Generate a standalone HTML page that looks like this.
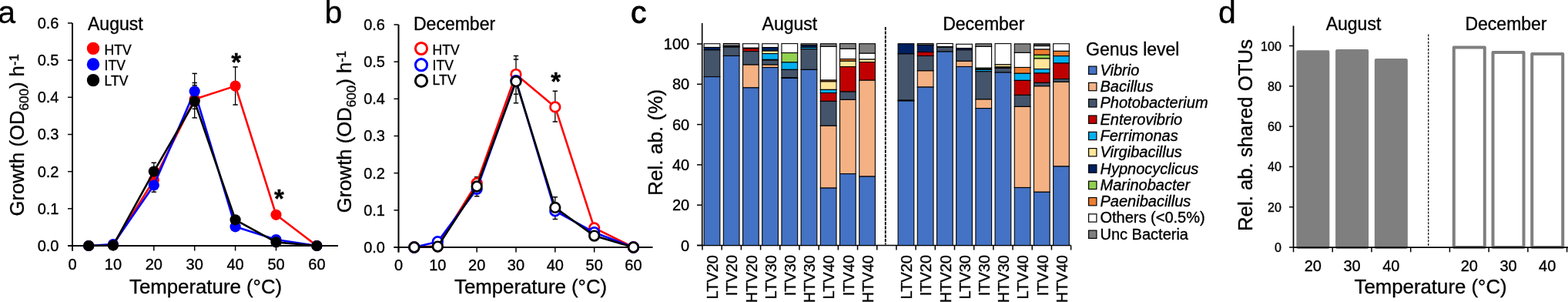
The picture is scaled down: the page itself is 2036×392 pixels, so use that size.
<!DOCTYPE html><html><head><meta charset="utf-8"><style>html,body{margin:0;padding:0;background:#fff;overflow:hidden}svg{display:block}text{stroke:#000;stroke-width:0.35px}</style></head><body><svg width="2036" height="392" viewBox="0 0 2036 392" style="font-family:'Liberation Sans', Arial, Helvetica, sans-serif">
<rect width="2036" height="392" fill="#fff"/>
<text x="-2.80" y="29.50" text-anchor="start" style="font-size:41px" >a</text>
<line x1="94.00" y1="29.98" x2="94.00" y2="325.50" stroke="#000" stroke-width="2.0" />
<line x1="88.00" y1="319.00" x2="439.00" y2="319.00" stroke="#000" stroke-width="2.0" />
<line x1="88.00" y1="319.00" x2="94.00" y2="319.00" stroke="#000" stroke-width="1.5" />
<text x="76.50" y="326.00" text-anchor="end" style="font-size:20px" >0.0</text>
<line x1="88.00" y1="270.83" x2="94.00" y2="270.83" stroke="#000" stroke-width="1.5" />
<text x="76.50" y="277.83" text-anchor="end" style="font-size:20px" >0.1</text>
<line x1="88.00" y1="222.66" x2="94.00" y2="222.66" stroke="#000" stroke-width="1.5" />
<text x="76.50" y="229.66" text-anchor="end" style="font-size:20px" >0.2</text>
<line x1="88.00" y1="174.49" x2="94.00" y2="174.49" stroke="#000" stroke-width="1.5" />
<text x="76.50" y="181.49" text-anchor="end" style="font-size:20px" >0.3</text>
<line x1="88.00" y1="126.32" x2="94.00" y2="126.32" stroke="#000" stroke-width="1.5" />
<text x="76.50" y="133.32" text-anchor="end" style="font-size:20px" >0.4</text>
<line x1="88.00" y1="78.15" x2="94.00" y2="78.15" stroke="#000" stroke-width="1.5" />
<text x="76.50" y="85.15" text-anchor="end" style="font-size:20px" >0.5</text>
<line x1="88.00" y1="29.98" x2="94.00" y2="29.98" stroke="#000" stroke-width="1.5" />
<text x="76.50" y="36.98" text-anchor="end" style="font-size:20px" >0.6</text>
<line x1="94.00" y1="319.00" x2="94.00" y2="325.50" stroke="#000" stroke-width="1.5" />
<text x="94.00" y="349.60" text-anchor="middle" style="font-size:20px" >0</text>
<line x1="146.90" y1="319.00" x2="146.90" y2="325.50" stroke="#000" stroke-width="1.5" />
<text x="146.90" y="349.60" text-anchor="middle" style="font-size:20px" >10</text>
<line x1="199.80" y1="319.00" x2="199.80" y2="325.50" stroke="#000" stroke-width="1.5" />
<text x="199.80" y="349.60" text-anchor="middle" style="font-size:20px" >20</text>
<line x1="252.70" y1="319.00" x2="252.70" y2="325.50" stroke="#000" stroke-width="1.5" />
<text x="252.70" y="349.60" text-anchor="middle" style="font-size:20px" >30</text>
<line x1="305.60" y1="319.00" x2="305.60" y2="325.50" stroke="#000" stroke-width="1.5" />
<text x="305.60" y="349.60" text-anchor="middle" style="font-size:20px" >40</text>
<line x1="358.50" y1="319.00" x2="358.50" y2="325.50" stroke="#000" stroke-width="1.5" />
<text x="358.50" y="349.60" text-anchor="middle" style="font-size:20px" >50</text>
<line x1="411.40" y1="319.00" x2="411.40" y2="325.50" stroke="#000" stroke-width="1.5" />
<text x="411.40" y="349.60" text-anchor="middle" style="font-size:20px" >60</text>
<text x="168.00" y="380.70" text-anchor="start" style="font-size:25.8px" >Temperature (°C)</text>
<text transform="translate(31.30,280.50) rotate(-90)" style="font-size:25.7px">Growth (OD<tspan style="font-size:17px" dy="6">600</tspan><tspan dy="-6">) h</tspan><tspan style="font-size:17px" dy="-7">-1</tspan></text>
<text x="114.00" y="39.00" text-anchor="start" style="font-size:23px" >August</text>
<circle cx="121" cy="62.9" r="8.2" fill="#ff0000"/>
<text x="135.60" y="70.80" text-anchor="start" style="font-size:17.5px" >HTV</text>
<circle cx="121" cy="83.5" r="8.2" fill="#0000ff"/>
<text x="135.60" y="91.00" text-anchor="start" style="font-size:17.5px" >ITV</text>
<circle cx="121" cy="104.1" r="8.2" fill="#000000"/>
<text x="135.60" y="111.20" text-anchor="start" style="font-size:17.5px" >LTV</text>
<line x1="199.80" y1="211.25" x2="199.80" y2="249.25" stroke="#000" stroke-width="1.3" />
<line x1="196.60" y1="211.25" x2="203.00" y2="211.25" stroke="#000" stroke-width="1.5" />
<line x1="196.60" y1="249.25" x2="203.00" y2="249.25" stroke="#000" stroke-width="1.5" />
<line x1="252.70" y1="95.40" x2="252.70" y2="152.90" stroke="#000" stroke-width="1.3" />
<line x1="249.50" y1="95.40" x2="255.90" y2="95.40" stroke="#000" stroke-width="1.5" />
<line x1="249.50" y1="107.50" x2="255.90" y2="107.50" stroke="#000" stroke-width="1.5" />
<line x1="249.50" y1="110.70" x2="255.90" y2="110.70" stroke="#000" stroke-width="1.5" />
<line x1="249.50" y1="141.30" x2="255.90" y2="141.30" stroke="#000" stroke-width="1.5" />
<line x1="249.50" y1="152.90" x2="255.90" y2="152.90" stroke="#000" stroke-width="1.5" />
<line x1="305.60" y1="86.90" x2="305.60" y2="136.00" stroke="#000" stroke-width="1.3" />
<line x1="302.40" y1="86.90" x2="308.80" y2="86.90" stroke="#000" stroke-width="1.5" />
<line x1="302.40" y1="136.00" x2="308.80" y2="136.00" stroke="#000" stroke-width="1.5" />
<polyline points="115.16,319.00 146.90,318.04 199.80,233.74 252.70,128.73 305.60,111.63 358.50,278.78 411.40,319.00" fill="none" stroke="#ff0000" stroke-width="2.6" stroke-linejoin="round"/>
<circle cx="115.16" cy="319.00" r="7.1" fill="#ff0000"/>
<circle cx="146.90" cy="318.04" r="7.1" fill="#ff0000"/>
<circle cx="199.80" cy="233.74" r="7.1" fill="#ff0000"/>
<circle cx="252.70" cy="128.73" r="7.1" fill="#ff0000"/>
<circle cx="305.60" cy="111.63" r="7.1" fill="#ff0000"/>
<circle cx="358.50" cy="278.78" r="7.1" fill="#ff0000"/>
<circle cx="411.40" cy="319.00" r="7.1" fill="#ff0000"/>
<polyline points="115.16,319.00 146.90,317.07 199.80,240.48 252.70,118.61 305.60,294.29 358.50,311.05 411.40,319.00" fill="none" stroke="#0000ff" stroke-width="2.6" stroke-linejoin="round"/>
<circle cx="115.16" cy="319.00" r="7.1" fill="#0000ff"/>
<circle cx="146.90" cy="317.07" r="7.1" fill="#0000ff"/>
<circle cx="199.80" cy="240.48" r="7.1" fill="#0000ff"/>
<circle cx="252.70" cy="118.61" r="7.1" fill="#0000ff"/>
<circle cx="305.60" cy="294.29" r="7.1" fill="#0000ff"/>
<circle cx="358.50" cy="311.05" r="7.1" fill="#0000ff"/>
<circle cx="411.40" cy="319.00" r="7.1" fill="#0000ff"/>
<polyline points="115.16,319.00 146.90,318.52 199.80,222.56 252.70,131.62 305.60,285.28 358.50,314.42 411.40,319.00" fill="none" stroke="#000000" stroke-width="2.6" stroke-linejoin="round"/>
<circle cx="115.16" cy="319.00" r="7.1" fill="#000000"/>
<circle cx="146.90" cy="318.52" r="7.1" fill="#000000"/>
<circle cx="199.80" cy="222.56" r="7.1" fill="#000000"/>
<circle cx="252.70" cy="131.62" r="7.1" fill="#000000"/>
<circle cx="305.60" cy="285.28" r="7.1" fill="#000000"/>
<circle cx="358.50" cy="314.42" r="7.1" fill="#000000"/>
<circle cx="411.40" cy="319.00" r="7.1" fill="#000000"/>
<text x="306.60" y="91.60" text-anchor="middle" style="font-size:33px;font-weight:bold" >*</text>
<text x="362.50" y="268.60" text-anchor="middle" style="font-size:33px;font-weight:bold" >*</text>
<text x="421.50" y="29.50" text-anchor="start" style="font-size:41px" >b</text>
<line x1="517.50" y1="31.98" x2="517.50" y2="327.50" stroke="#000" stroke-width="2.0" />
<line x1="511.50" y1="321.00" x2="847.50" y2="321.00" stroke="#000" stroke-width="2.0" />
<line x1="511.50" y1="321.00" x2="517.50" y2="321.00" stroke="#000" stroke-width="1.5" />
<text x="500.00" y="328.00" text-anchor="end" style="font-size:20px" >0.0</text>
<line x1="511.50" y1="272.83" x2="517.50" y2="272.83" stroke="#000" stroke-width="1.5" />
<text x="500.00" y="279.83" text-anchor="end" style="font-size:20px" >0.1</text>
<line x1="511.50" y1="224.66" x2="517.50" y2="224.66" stroke="#000" stroke-width="1.5" />
<text x="500.00" y="231.66" text-anchor="end" style="font-size:20px" >0.2</text>
<line x1="511.50" y1="176.49" x2="517.50" y2="176.49" stroke="#000" stroke-width="1.5" />
<text x="500.00" y="183.49" text-anchor="end" style="font-size:20px" >0.3</text>
<line x1="511.50" y1="128.32" x2="517.50" y2="128.32" stroke="#000" stroke-width="1.5" />
<text x="500.00" y="135.32" text-anchor="end" style="font-size:20px" >0.4</text>
<line x1="511.50" y1="80.15" x2="517.50" y2="80.15" stroke="#000" stroke-width="1.5" />
<text x="500.00" y="87.15" text-anchor="end" style="font-size:20px" >0.5</text>
<line x1="511.50" y1="31.98" x2="517.50" y2="31.98" stroke="#000" stroke-width="1.5" />
<text x="500.00" y="38.98" text-anchor="end" style="font-size:20px" >0.6</text>
<line x1="517.50" y1="321.00" x2="517.50" y2="327.50" stroke="#000" stroke-width="1.5" />
<text x="517.50" y="350.60" text-anchor="middle" style="font-size:20px" >0</text>
<line x1="568.33" y1="321.00" x2="568.33" y2="327.50" stroke="#000" stroke-width="1.5" />
<text x="568.33" y="350.60" text-anchor="middle" style="font-size:20px" >10</text>
<line x1="619.16" y1="321.00" x2="619.16" y2="327.50" stroke="#000" stroke-width="1.5" />
<text x="619.16" y="350.60" text-anchor="middle" style="font-size:20px" >20</text>
<line x1="669.99" y1="321.00" x2="669.99" y2="327.50" stroke="#000" stroke-width="1.5" />
<text x="669.99" y="350.60" text-anchor="middle" style="font-size:20px" >30</text>
<line x1="720.82" y1="321.00" x2="720.82" y2="327.50" stroke="#000" stroke-width="1.5" />
<text x="720.82" y="350.60" text-anchor="middle" style="font-size:20px" >40</text>
<line x1="771.65" y1="321.00" x2="771.65" y2="327.50" stroke="#000" stroke-width="1.5" />
<text x="771.65" y="350.60" text-anchor="middle" style="font-size:20px" >50</text>
<line x1="822.48" y1="321.00" x2="822.48" y2="327.50" stroke="#000" stroke-width="1.5" />
<text x="822.48" y="350.60" text-anchor="middle" style="font-size:20px" >60</text>
<text x="590.00" y="381.00" text-anchor="start" style="font-size:25.8px" >Temperature (°C)</text>
<text transform="translate(455.80,276.20) rotate(-90)" style="font-size:25.7px">Growth (OD<tspan style="font-size:17px" dy="6">600</tspan><tspan dy="-6">) h</tspan><tspan style="font-size:17px" dy="-7">-1</tspan></text>
<text x="537.00" y="39.00" text-anchor="start" style="font-size:23px" >December</text>
<circle cx="547" cy="63" r="7.6" fill="#fff" stroke="#ff0000" stroke-width="3"/>
<text x="561.60" y="70.50" text-anchor="start" style="font-size:17.5px" >HTV</text>
<circle cx="547" cy="84.2" r="7.6" fill="#fff" stroke="#0000ff" stroke-width="3"/>
<text x="561.60" y="91.00" text-anchor="start" style="font-size:17.5px" >ITV</text>
<circle cx="547" cy="104.9" r="7.6" fill="#fff" stroke="#000000" stroke-width="3"/>
<text x="561.60" y="110.00" text-anchor="start" style="font-size:17.5px" >LTV</text>
<line x1="619.16" y1="229.75" x2="619.16" y2="254.75" stroke="#000" stroke-width="1.3" />
<line x1="615.96" y1="229.75" x2="622.36" y2="229.75" stroke="#000" stroke-width="1.5" />
<line x1="615.96" y1="254.75" x2="622.36" y2="254.75" stroke="#000" stroke-width="1.5" />
<line x1="669.99" y1="72.50" x2="669.99" y2="133.75" stroke="#000" stroke-width="1.3" />
<line x1="666.79" y1="72.50" x2="673.19" y2="72.50" stroke="#000" stroke-width="1.5" />
<line x1="666.79" y1="77.10" x2="673.19" y2="77.10" stroke="#000" stroke-width="1.5" />
<line x1="666.79" y1="122.25" x2="673.19" y2="122.25" stroke="#000" stroke-width="1.5" />
<line x1="666.79" y1="133.75" x2="673.19" y2="133.75" stroke="#000" stroke-width="1.5" />
<line x1="720.82" y1="118.25" x2="720.82" y2="158.00" stroke="#000" stroke-width="1.3" />
<line x1="717.62" y1="118.25" x2="724.02" y2="118.25" stroke="#000" stroke-width="1.5" />
<line x1="717.62" y1="158.00" x2="724.02" y2="158.00" stroke="#000" stroke-width="1.5" />
<line x1="720.82" y1="255.75" x2="720.82" y2="284.50" stroke="#000" stroke-width="1.3" />
<line x1="717.62" y1="255.75" x2="724.02" y2="255.75" stroke="#000" stroke-width="1.5" />
<line x1="717.62" y1="284.50" x2="724.02" y2="284.50" stroke="#000" stroke-width="1.5" />
<polyline points="537.83,321.00 568.33,319.55 619.16,237.67 669.99,96.53 720.82,138.92 771.65,295.95 822.48,321.00" fill="none" stroke="#ff0000" stroke-width="2.6" stroke-linejoin="round"/>
<circle cx="537.83" cy="321.00" r="6.3" fill="#fff" stroke="#ff0000" stroke-width="2.7"/>
<circle cx="568.33" cy="319.55" r="6.3" fill="#fff" stroke="#ff0000" stroke-width="2.7"/>
<circle cx="619.16" cy="237.67" r="6.3" fill="#fff" stroke="#ff0000" stroke-width="2.7"/>
<circle cx="669.99" cy="96.53" r="6.3" fill="#fff" stroke="#ff0000" stroke-width="2.7"/>
<circle cx="720.82" cy="138.92" r="6.3" fill="#fff" stroke="#ff0000" stroke-width="2.7"/>
<circle cx="771.65" cy="295.95" r="6.3" fill="#fff" stroke="#ff0000" stroke-width="2.7"/>
<circle cx="822.48" cy="321.00" r="6.3" fill="#fff" stroke="#ff0000" stroke-width="2.7"/>
<polyline points="537.83,321.00 568.33,313.77 619.16,245.37 669.99,104.72 720.82,273.79 771.65,301.73 822.48,321.00" fill="none" stroke="#0000ff" stroke-width="2.6" stroke-linejoin="round"/>
<circle cx="537.83" cy="321.00" r="6.3" fill="#fff" stroke="#0000ff" stroke-width="2.7"/>
<circle cx="568.33" cy="313.77" r="6.3" fill="#fff" stroke="#0000ff" stroke-width="2.7"/>
<circle cx="619.16" cy="245.37" r="6.3" fill="#fff" stroke="#0000ff" stroke-width="2.7"/>
<circle cx="669.99" cy="104.72" r="6.3" fill="#fff" stroke="#0000ff" stroke-width="2.7"/>
<circle cx="720.82" cy="273.79" r="6.3" fill="#fff" stroke="#0000ff" stroke-width="2.7"/>
<circle cx="771.65" cy="301.73" r="6.3" fill="#fff" stroke="#0000ff" stroke-width="2.7"/>
<circle cx="822.48" cy="321.00" r="6.3" fill="#fff" stroke="#0000ff" stroke-width="2.7"/>
<polyline points="537.83,321.00 568.33,320.04 619.16,242.00 669.99,105.68 720.82,269.46 771.65,306.07 822.48,321.00" fill="none" stroke="#000000" stroke-width="2.6" stroke-linejoin="round"/>
<circle cx="537.83" cy="321.00" r="6.3" fill="#fff" stroke="#000000" stroke-width="2.7"/>
<circle cx="568.33" cy="320.04" r="6.3" fill="#fff" stroke="#000000" stroke-width="2.7"/>
<circle cx="619.16" cy="242.00" r="6.3" fill="#fff" stroke="#000000" stroke-width="2.7"/>
<circle cx="669.99" cy="105.68" r="6.3" fill="#fff" stroke="#000000" stroke-width="2.7"/>
<circle cx="720.82" cy="269.46" r="6.3" fill="#fff" stroke="#000000" stroke-width="2.7"/>
<circle cx="771.65" cy="306.07" r="6.3" fill="#fff" stroke="#000000" stroke-width="2.7"/>
<circle cx="822.48" cy="321.00" r="6.3" fill="#fff" stroke="#000000" stroke-width="2.7"/>
<text x="721.60" y="117.40" text-anchor="middle" style="font-size:33px;font-weight:bold" >*</text>
<text x="819.00" y="29.70" text-anchor="start" style="font-size:41px;stroke-width:0.9px" >c</text>
<line x1="911.70" y1="30.00" x2="911.70" y2="318.50" stroke="#000" stroke-width="1.6" />
<line x1="905.00" y1="318.50" x2="1390.61" y2="318.50" stroke="#000" stroke-width="1.6" />
<line x1="905.00" y1="318.50" x2="912.00" y2="318.50" stroke="#000" stroke-width="1.5" />
<text x="895.20" y="325.50" text-anchor="end" style="font-size:20px" >0</text>
<line x1="905.00" y1="266.20" x2="912.00" y2="266.20" stroke="#000" stroke-width="1.5" />
<text x="895.20" y="273.20" text-anchor="end" style="font-size:20px" >20</text>
<line x1="905.00" y1="213.90" x2="912.00" y2="213.90" stroke="#000" stroke-width="1.5" />
<text x="895.20" y="220.90" text-anchor="end" style="font-size:20px" >40</text>
<line x1="905.00" y1="161.60" x2="912.00" y2="161.60" stroke="#000" stroke-width="1.5" />
<text x="895.20" y="168.60" text-anchor="end" style="font-size:20px" >60</text>
<line x1="905.00" y1="109.30" x2="912.00" y2="109.30" stroke="#000" stroke-width="1.5" />
<text x="895.20" y="116.30" text-anchor="end" style="font-size:20px" >80</text>
<line x1="905.00" y1="57.00" x2="912.00" y2="57.00" stroke="#000" stroke-width="1.5" />
<text x="895.20" y="64.00" text-anchor="end" style="font-size:20px" >100</text>
<line x1="912.00" y1="318.50" x2="912.00" y2="324.50" stroke="#000" stroke-width="1.5" />
<line x1="937.19" y1="318.50" x2="937.19" y2="324.50" stroke="#000" stroke-width="1.5" />
<line x1="962.38" y1="318.50" x2="962.38" y2="324.50" stroke="#000" stroke-width="1.5" />
<line x1="987.57" y1="318.50" x2="987.57" y2="324.50" stroke="#000" stroke-width="1.5" />
<line x1="1012.76" y1="318.50" x2="1012.76" y2="324.50" stroke="#000" stroke-width="1.5" />
<line x1="1037.95" y1="318.50" x2="1037.95" y2="324.50" stroke="#000" stroke-width="1.5" />
<line x1="1063.14" y1="318.50" x2="1063.14" y2="324.50" stroke="#000" stroke-width="1.5" />
<line x1="1088.33" y1="318.50" x2="1088.33" y2="324.50" stroke="#000" stroke-width="1.5" />
<line x1="1113.52" y1="318.50" x2="1113.52" y2="324.50" stroke="#000" stroke-width="1.5" />
<line x1="1138.71" y1="318.50" x2="1138.71" y2="324.50" stroke="#000" stroke-width="1.5" />
<line x1="1163.90" y1="318.50" x2="1163.90" y2="324.50" stroke="#000" stroke-width="1.5" />
<line x1="1189.09" y1="318.50" x2="1189.09" y2="324.50" stroke="#000" stroke-width="1.5" />
<line x1="1214.28" y1="318.50" x2="1214.28" y2="324.50" stroke="#000" stroke-width="1.5" />
<line x1="1239.47" y1="318.50" x2="1239.47" y2="324.50" stroke="#000" stroke-width="1.5" />
<line x1="1264.66" y1="318.50" x2="1264.66" y2="324.50" stroke="#000" stroke-width="1.5" />
<line x1="1289.85" y1="318.50" x2="1289.85" y2="324.50" stroke="#000" stroke-width="1.5" />
<line x1="1315.04" y1="318.50" x2="1315.04" y2="324.50" stroke="#000" stroke-width="1.5" />
<line x1="1340.23" y1="318.50" x2="1340.23" y2="324.50" stroke="#000" stroke-width="1.5" />
<line x1="1365.42" y1="318.50" x2="1365.42" y2="324.50" stroke="#000" stroke-width="1.5" />
<line x1="1390.61" y1="318.50" x2="1390.61" y2="324.50" stroke="#000" stroke-width="1.5" />
<rect x="914.15" y="56.75" width="20.70" height="4.75" fill="#ffffff" stroke="#000" stroke-width="1.1"/>
<rect x="914.15" y="61.50" width="20.70" height="3.40" fill="#002060" stroke="#000" stroke-width="1.1"/>
<rect x="914.15" y="64.90" width="20.70" height="34.70" fill="#44546a" stroke="#000" stroke-width="1.1"/>
<rect x="914.15" y="99.60" width="20.70" height="218.90" fill="#4472c4" stroke="#000" stroke-width="1.1"/>
<text transform="translate(932.30,331) rotate(-90)" text-anchor="end" style="font-size:20px">LTV20</text>
<rect x="939.34" y="56.50" width="20.70" height="3.05" fill="#7f7f7f" stroke="#000" stroke-width="1.1"/>
<rect x="939.34" y="59.55" width="20.70" height="1.60" fill="#002060" stroke="#000" stroke-width="1.1"/>
<rect x="939.34" y="61.15" width="20.70" height="11.35" fill="#44546a" stroke="#000" stroke-width="1.1"/>
<rect x="939.34" y="72.50" width="20.70" height="246.00" fill="#4472c4" stroke="#000" stroke-width="1.1"/>
<text transform="translate(957.49,331) rotate(-90)" text-anchor="end" style="font-size:20px">ITV20</text>
<rect x="964.54" y="56.75" width="20.70" height="5.55" fill="#ffffff" stroke="#000" stroke-width="1.1"/>
<rect x="964.54" y="62.30" width="20.70" height="0.70" fill="#002060" stroke="#000" stroke-width="1.1"/>
<rect x="964.54" y="63.00" width="20.70" height="3.60" fill="#c00000" stroke="#000" stroke-width="1.1"/>
<rect x="964.54" y="66.60" width="20.70" height="17.50" fill="#44546a" stroke="#000" stroke-width="1.1"/>
<rect x="964.54" y="84.10" width="20.70" height="29.80" fill="#f4b183" stroke="#000" stroke-width="1.1"/>
<rect x="964.54" y="113.90" width="20.70" height="204.60" fill="#4472c4" stroke="#000" stroke-width="1.1"/>
<text transform="translate(982.68,331) rotate(-90)" text-anchor="end" style="font-size:20px">HTV20</text>
<rect x="989.73" y="56.75" width="20.70" height="4.85" fill="#ffffff" stroke="#000" stroke-width="1.1"/>
<rect x="989.73" y="61.60" width="20.70" height="4.50" fill="#002060" stroke="#000" stroke-width="1.1"/>
<rect x="989.73" y="66.10" width="20.70" height="3.50" fill="#ffe699" stroke="#000" stroke-width="1.1"/>
<rect x="989.73" y="69.60" width="20.70" height="7.80" fill="#00b0f0" stroke="#000" stroke-width="1.1"/>
<rect x="989.73" y="77.40" width="20.70" height="0.70" fill="#002060" stroke="#000" stroke-width="1.1"/>
<rect x="989.73" y="78.10" width="20.70" height="6.00" fill="#44546a" stroke="#000" stroke-width="1.1"/>
<rect x="989.73" y="84.10" width="20.70" height="3.50" fill="#f4b183" stroke="#000" stroke-width="1.1"/>
<rect x="989.73" y="87.60" width="20.70" height="230.90" fill="#4472c4" stroke="#000" stroke-width="1.1"/>
<text transform="translate(1007.87,331) rotate(-90)" text-anchor="end" style="font-size:20px">LTV30</text>
<rect x="1014.93" y="56.60" width="20.70" height="12.00" fill="#ffffff" stroke="#000" stroke-width="1.1"/>
<rect x="1014.93" y="68.60" width="20.70" height="12.30" fill="#92d050" stroke="#000" stroke-width="1.1"/>
<rect x="1014.93" y="80.90" width="20.70" height="9.50" fill="#00b0f0" stroke="#000" stroke-width="1.1"/>
<rect x="1014.93" y="90.40" width="20.70" height="10.50" fill="#44546a" stroke="#000" stroke-width="1.1"/>
<rect x="1014.93" y="100.90" width="20.70" height="0.60" fill="#002060" stroke="#000" stroke-width="1.1"/>
<rect x="1014.93" y="101.50" width="20.70" height="217.00" fill="#4472c4" stroke="#000" stroke-width="1.1"/>
<text transform="translate(1033.06,331) rotate(-90)" text-anchor="end" style="font-size:20px">ITV30</text>
<rect x="1040.12" y="56.75" width="20.70" height="2.15" fill="#7f7f7f" stroke="#000" stroke-width="1.1"/>
<rect x="1040.12" y="58.90" width="20.70" height="2.60" fill="#002060" stroke="#000" stroke-width="1.1"/>
<rect x="1040.12" y="61.50" width="20.70" height="2.20" fill="#00b0f0" stroke="#000" stroke-width="1.1"/>
<rect x="1040.12" y="63.70" width="20.70" height="26.70" fill="#44546a" stroke="#000" stroke-width="1.1"/>
<rect x="1040.12" y="90.40" width="20.70" height="228.10" fill="#4472c4" stroke="#000" stroke-width="1.1"/>
<text transform="translate(1058.25,331) rotate(-90)" text-anchor="end" style="font-size:20px">HTV30</text>
<rect x="1065.31" y="56.75" width="20.70" height="3.65" fill="#7f7f7f" stroke="#000" stroke-width="1.1"/>
<rect x="1065.31" y="60.40" width="20.70" height="43.70" fill="#ffffff" stroke="#000" stroke-width="1.1"/>
<rect x="1065.31" y="104.10" width="20.70" height="1.80" fill="#ed7d31" stroke="#000" stroke-width="1.1"/>
<rect x="1065.31" y="105.90" width="20.70" height="10.50" fill="#ffe699" stroke="#000" stroke-width="1.1"/>
<rect x="1065.31" y="116.40" width="20.70" height="4.20" fill="#00b0f0" stroke="#000" stroke-width="1.1"/>
<rect x="1065.31" y="120.60" width="20.70" height="10.80" fill="#c00000" stroke="#000" stroke-width="1.1"/>
<rect x="1065.31" y="131.40" width="20.70" height="31.90" fill="#44546a" stroke="#000" stroke-width="1.1"/>
<rect x="1065.31" y="163.30" width="20.70" height="80.80" fill="#f4b183" stroke="#000" stroke-width="1.1"/>
<rect x="1065.31" y="244.10" width="20.70" height="74.40" fill="#4472c4" stroke="#000" stroke-width="1.1"/>
<text transform="translate(1083.44,331) rotate(-90)" text-anchor="end" style="font-size:20px">LTV40</text>
<rect x="1090.51" y="56.60" width="20.70" height="6.80" fill="#7f7f7f" stroke="#000" stroke-width="1.1"/>
<rect x="1090.51" y="63.40" width="20.70" height="13.20" fill="#ffffff" stroke="#000" stroke-width="1.1"/>
<rect x="1090.51" y="76.60" width="20.70" height="2.70" fill="#ed7d31" stroke="#000" stroke-width="1.1"/>
<rect x="1090.51" y="79.30" width="20.70" height="7.30" fill="#ffe699" stroke="#000" stroke-width="1.1"/>
<rect x="1090.51" y="86.60" width="20.70" height="32.50" fill="#c00000" stroke="#000" stroke-width="1.1"/>
<rect x="1090.51" y="119.10" width="20.70" height="10.30" fill="#44546a" stroke="#000" stroke-width="1.1"/>
<rect x="1090.51" y="129.40" width="20.70" height="96.20" fill="#f4b183" stroke="#000" stroke-width="1.1"/>
<rect x="1090.51" y="225.60" width="20.70" height="92.90" fill="#4472c4" stroke="#000" stroke-width="1.1"/>
<text transform="translate(1108.63,331) rotate(-90)" text-anchor="end" style="font-size:20px">ITV40</text>
<rect x="1115.70" y="56.75" width="20.70" height="12.50" fill="#7f7f7f" stroke="#000" stroke-width="1.1"/>
<rect x="1115.70" y="69.25" width="20.70" height="7.85" fill="#ffffff" stroke="#000" stroke-width="1.1"/>
<rect x="1115.70" y="77.10" width="20.70" height="3.50" fill="#ffe699" stroke="#000" stroke-width="1.1"/>
<rect x="1115.70" y="80.60" width="20.70" height="23.60" fill="#c00000" stroke="#000" stroke-width="1.1"/>
<rect x="1115.70" y="104.20" width="20.70" height="124.90" fill="#f4b183" stroke="#000" stroke-width="1.1"/>
<rect x="1115.70" y="229.10" width="20.70" height="89.40" fill="#4472c4" stroke="#000" stroke-width="1.1"/>
<text transform="translate(1133.82,331) rotate(-90)" text-anchor="end" style="font-size:20px">HTV40</text>
<rect x="1166.09" y="56.75" width="20.70" height="13.15" fill="#002060" stroke="#000" stroke-width="1.1"/>
<rect x="1166.09" y="69.90" width="20.70" height="60.30" fill="#44546a" stroke="#000" stroke-width="1.1"/>
<rect x="1166.09" y="130.20" width="20.70" height="0.80" fill="#002060" stroke="#000" stroke-width="1.1"/>
<rect x="1166.09" y="131.00" width="20.70" height="187.50" fill="#4472c4" stroke="#000" stroke-width="1.1"/>
<text transform="translate(1184.20,331) rotate(-90)" text-anchor="end" style="font-size:20px">LTV20</text>
<rect x="1191.28" y="56.60" width="20.70" height="1.90" fill="#7f7f7f" stroke="#000" stroke-width="1.1"/>
<rect x="1191.28" y="58.50" width="20.70" height="9.10" fill="#002060" stroke="#000" stroke-width="1.1"/>
<rect x="1191.28" y="67.60" width="20.70" height="4.90" fill="#c00000" stroke="#000" stroke-width="1.1"/>
<rect x="1191.28" y="72.50" width="20.70" height="19.40" fill="#44546a" stroke="#000" stroke-width="1.1"/>
<rect x="1191.28" y="91.90" width="20.70" height="21.20" fill="#f4b183" stroke="#000" stroke-width="1.1"/>
<rect x="1191.28" y="113.10" width="20.70" height="205.40" fill="#4472c4" stroke="#000" stroke-width="1.1"/>
<text transform="translate(1209.39,331) rotate(-90)" text-anchor="end" style="font-size:20px">ITV20</text>
<rect x="1216.48" y="56.50" width="20.70" height="4.10" fill="#ffffff" stroke="#000" stroke-width="1.1"/>
<rect x="1216.48" y="60.60" width="20.70" height="0.60" fill="#002060" stroke="#000" stroke-width="1.1"/>
<rect x="1216.48" y="61.20" width="20.70" height="5.90" fill="#44546a" stroke="#000" stroke-width="1.1"/>
<rect x="1216.48" y="67.10" width="20.70" height="251.40" fill="#4472c4" stroke="#000" stroke-width="1.1"/>
<text transform="translate(1234.58,331) rotate(-90)" text-anchor="end" style="font-size:20px">HTV20</text>
<rect x="1241.67" y="57.30" width="20.70" height="5.30" fill="#ffffff" stroke="#000" stroke-width="1.1"/>
<rect x="1241.67" y="62.60" width="20.70" height="2.20" fill="#002060" stroke="#000" stroke-width="1.1"/>
<rect x="1241.67" y="64.80" width="20.70" height="14.60" fill="#44546a" stroke="#000" stroke-width="1.1"/>
<rect x="1241.67" y="79.40" width="20.70" height="7.10" fill="#f4b183" stroke="#000" stroke-width="1.1"/>
<rect x="1241.67" y="86.50" width="20.70" height="232.00" fill="#4472c4" stroke="#000" stroke-width="1.1"/>
<text transform="translate(1259.77,331) rotate(-90)" text-anchor="end" style="font-size:20px">LTV30</text>
<rect x="1266.87" y="56.80" width="20.70" height="3.60" fill="#7f7f7f" stroke="#000" stroke-width="1.1"/>
<rect x="1266.87" y="60.40" width="20.70" height="27.90" fill="#ffffff" stroke="#000" stroke-width="1.1"/>
<rect x="1266.87" y="88.30" width="20.70" height="1.60" fill="#92d050" stroke="#000" stroke-width="1.1"/>
<rect x="1266.87" y="89.90" width="20.70" height="0.50" fill="#002060" stroke="#000" stroke-width="1.1"/>
<rect x="1266.87" y="90.40" width="20.70" height="2.40" fill="#00b0f0" stroke="#000" stroke-width="1.1"/>
<rect x="1266.87" y="92.80" width="20.70" height="36.20" fill="#44546a" stroke="#000" stroke-width="1.1"/>
<rect x="1266.87" y="129.00" width="20.70" height="11.60" fill="#f4b183" stroke="#000" stroke-width="1.1"/>
<rect x="1266.87" y="140.60" width="20.70" height="177.90" fill="#4472c4" stroke="#000" stroke-width="1.1"/>
<text transform="translate(1284.96,331) rotate(-90)" text-anchor="end" style="font-size:20px">ITV30</text>
<rect x="1292.06" y="56.60" width="20.70" height="27.30" fill="#ffffff" stroke="#000" stroke-width="1.1"/>
<rect x="1292.06" y="83.90" width="20.70" height="3.10" fill="#ffe699" stroke="#000" stroke-width="1.1"/>
<rect x="1292.06" y="87.00" width="20.70" height="1.40" fill="#002060" stroke="#000" stroke-width="1.1"/>
<rect x="1292.06" y="88.40" width="20.70" height="5.70" fill="#44546a" stroke="#000" stroke-width="1.1"/>
<rect x="1292.06" y="94.10" width="20.70" height="224.40" fill="#4472c4" stroke="#000" stroke-width="1.1"/>
<text transform="translate(1310.15,331) rotate(-90)" text-anchor="end" style="font-size:20px">HTV30</text>
<rect x="1317.25" y="56.90" width="20.70" height="11.50" fill="#7f7f7f" stroke="#000" stroke-width="1.1"/>
<rect x="1317.25" y="68.40" width="20.70" height="19.10" fill="#ffffff" stroke="#000" stroke-width="1.1"/>
<rect x="1317.25" y="87.50" width="20.70" height="7.80" fill="#ed7d31" stroke="#000" stroke-width="1.1"/>
<rect x="1317.25" y="95.30" width="20.70" height="9.10" fill="#00b0f0" stroke="#000" stroke-width="1.1"/>
<rect x="1317.25" y="104.40" width="20.70" height="19.00" fill="#c00000" stroke="#000" stroke-width="1.1"/>
<rect x="1317.25" y="123.40" width="20.70" height="15.00" fill="#44546a" stroke="#000" stroke-width="1.1"/>
<rect x="1317.25" y="138.40" width="20.70" height="105.10" fill="#f4b183" stroke="#000" stroke-width="1.1"/>
<rect x="1317.25" y="243.50" width="20.70" height="75.00" fill="#4472c4" stroke="#000" stroke-width="1.1"/>
<text transform="translate(1335.34,331) rotate(-90)" text-anchor="end" style="font-size:20px">LTV40</text>
<rect x="1342.45" y="56.90" width="20.70" height="2.80" fill="#404040" stroke="#000" stroke-width="1.1"/>
<rect x="1342.45" y="59.70" width="20.70" height="4.40" fill="#ffffff" stroke="#000" stroke-width="1.1"/>
<rect x="1342.45" y="64.10" width="20.70" height="7.20" fill="#ed7d31" stroke="#000" stroke-width="1.1"/>
<rect x="1342.45" y="71.30" width="20.70" height="4.70" fill="#92d050" stroke="#000" stroke-width="1.1"/>
<rect x="1342.45" y="76.00" width="20.70" height="13.60" fill="#ffe699" stroke="#000" stroke-width="1.1"/>
<rect x="1342.45" y="89.60" width="20.70" height="5.40" fill="#00b0f0" stroke="#000" stroke-width="1.1"/>
<rect x="1342.45" y="95.00" width="20.70" height="12.40" fill="#c00000" stroke="#000" stroke-width="1.1"/>
<rect x="1342.45" y="107.40" width="20.70" height="4.50" fill="#44546a" stroke="#000" stroke-width="1.1"/>
<rect x="1342.45" y="111.90" width="20.70" height="137.40" fill="#f4b183" stroke="#000" stroke-width="1.1"/>
<rect x="1342.45" y="249.30" width="20.70" height="69.20" fill="#4472c4" stroke="#000" stroke-width="1.1"/>
<text transform="translate(1360.53,331) rotate(-90)" text-anchor="end" style="font-size:20px">ITV40</text>
<rect x="1367.64" y="56.75" width="20.70" height="9.65" fill="#ffffff" stroke="#000" stroke-width="1.1"/>
<rect x="1367.64" y="66.40" width="20.70" height="6.35" fill="#ed7d31" stroke="#000" stroke-width="1.1"/>
<rect x="1367.64" y="72.75" width="20.70" height="9.25" fill="#00b0f0" stroke="#000" stroke-width="1.1"/>
<rect x="1367.64" y="82.00" width="20.70" height="20.50" fill="#c00000" stroke="#000" stroke-width="1.1"/>
<rect x="1367.64" y="102.50" width="20.70" height="3.90" fill="#44546a" stroke="#000" stroke-width="1.1"/>
<rect x="1367.64" y="106.40" width="20.70" height="109.60" fill="#f4b183" stroke="#000" stroke-width="1.1"/>
<rect x="1367.64" y="216.00" width="20.70" height="102.50" fill="#4472c4" stroke="#000" stroke-width="1.1"/>
<text transform="translate(1385.72,331) rotate(-90)" text-anchor="end" style="font-size:20px">HTV40</text>
<line x1="1149.75" y1="35" x2="1149.75" y2="317.5" stroke="#000" stroke-width="1.8" stroke-dasharray="4.2 1.3"/>
<text x="1025.36" y="39.30" text-anchor="middle" style="font-size:23px" >August</text>
<text x="1277.26" y="39.30" text-anchor="middle" style="font-size:23px" >December</text>
<text transform="translate(860,254) rotate(-90)" style="font-size:26.2px">Rel. ab. (%)</text>
<text x="1410.00" y="72.00" text-anchor="start" style="font-size:23px" >Genus level</text>
<rect x="1413.6" y="86.10" width="10.3" height="10.3" fill="#4472c4" stroke="#000" stroke-width="1.2"/>
<text x="1428.50" y="97.75" text-anchor="start" style="font-size:20px;font-style:italic" >Vibrio</text>
<rect x="1413.6" y="107.40" width="10.3" height="10.3" fill="#f4b183" stroke="#000" stroke-width="1.2"/>
<text x="1428.50" y="119.05" text-anchor="start" style="font-size:20px;font-style:italic" >Bacillus</text>
<rect x="1413.6" y="128.70" width="10.3" height="10.3" fill="#44546a" stroke="#000" stroke-width="1.2"/>
<text x="1428.50" y="140.35" text-anchor="start" style="font-size:20px;font-style:italic" >Photobacterium</text>
<rect x="1413.6" y="150.00" width="10.3" height="10.3" fill="#c00000" stroke="#000" stroke-width="1.2"/>
<text x="1428.50" y="161.65" text-anchor="start" style="font-size:20px;font-style:italic" >Enterovibrio</text>
<rect x="1413.6" y="171.30" width="10.3" height="10.3" fill="#00b0f0" stroke="#000" stroke-width="1.2"/>
<text x="1428.50" y="182.95" text-anchor="start" style="font-size:20px;font-style:italic" >Ferrimonas</text>
<rect x="1413.6" y="192.60" width="10.3" height="10.3" fill="#ffe699" stroke="#000" stroke-width="1.2"/>
<text x="1428.50" y="204.25" text-anchor="start" style="font-size:20px;font-style:italic" >Virgibacillus</text>
<rect x="1413.6" y="213.90" width="10.3" height="10.3" fill="#002060" stroke="#000" stroke-width="1.2"/>
<text x="1428.50" y="225.55" text-anchor="start" style="font-size:20px;font-style:italic" >Hypnocyclicus</text>
<rect x="1413.6" y="235.20" width="10.3" height="10.3" fill="#92d050" stroke="#000" stroke-width="1.2"/>
<text x="1428.50" y="246.85" text-anchor="start" style="font-size:20px;font-style:italic" >Marinobacter</text>
<rect x="1413.6" y="256.50" width="10.3" height="10.3" fill="#ed7d31" stroke="#000" stroke-width="1.2"/>
<text x="1428.50" y="268.15" text-anchor="start" style="font-size:20px;font-style:italic" >Paenibacillus</text>
<rect x="1413.6" y="277.80" width="10.3" height="10.3" fill="#ffffff" stroke="#000" stroke-width="1.2"/>
<text x="1428.50" y="289.45" text-anchor="start" style="font-size:20px" >Others (&lt;0.5%)</text>
<rect x="1413.6" y="299.10" width="10.3" height="10.3" fill="#7f7f7f" stroke="#000" stroke-width="1.2"/>
<text x="1428.50" y="310.75" text-anchor="start" style="font-size:20px" >Unc Bacteria</text>
<text x="1582.00" y="29.70" text-anchor="start" style="font-size:41px" >d</text>
<line x1="1679.50" y1="33.50" x2="1679.50" y2="321.00" stroke="#000" stroke-width="1.75" />
<line x1="1674.00" y1="321.00" x2="1679.50" y2="321.00" stroke="#000" stroke-width="1.5" />
<text x="1663.80" y="327.00" text-anchor="end" style="font-size:16px" >0</text>
<line x1="1674.00" y1="268.70" x2="1679.50" y2="268.70" stroke="#000" stroke-width="1.5" />
<text x="1663.80" y="274.70" text-anchor="end" style="font-size:16px" >20</text>
<line x1="1674.00" y1="216.40" x2="1679.50" y2="216.40" stroke="#000" stroke-width="1.5" />
<text x="1663.80" y="222.40" text-anchor="end" style="font-size:16px" >40</text>
<line x1="1674.00" y1="164.10" x2="1679.50" y2="164.10" stroke="#000" stroke-width="1.5" />
<text x="1663.80" y="170.10" text-anchor="end" style="font-size:16px" >60</text>
<line x1="1674.00" y1="111.80" x2="1679.50" y2="111.80" stroke="#000" stroke-width="1.5" />
<text x="1663.80" y="117.80" text-anchor="end" style="font-size:16px" >80</text>
<line x1="1674.00" y1="59.50" x2="1679.50" y2="59.50" stroke="#000" stroke-width="1.5" />
<text x="1663.80" y="65.50" text-anchor="end" style="font-size:16px" >100</text>
<rect x="1685.37" y="67.25" width="39.00" height="253.75" fill="#7f7f7f" stroke="#7f7f7f" stroke-width="4" stroke-linejoin="round"/>
<rect x="1736.10" y="66.00" width="39.00" height="255.00" fill="#7f7f7f" stroke="#7f7f7f" stroke-width="4" stroke-linejoin="round"/>
<rect x="1786.83" y="78.00" width="39.00" height="243.00" fill="#7f7f7f" stroke="#7f7f7f" stroke-width="4" stroke-linejoin="round"/>
<rect x="1887.79" y="61.50" width="40.00" height="259.50" fill="#fff" stroke="#7f7f7f" stroke-width="4" stroke-linejoin="round"/>
<rect x="1938.51" y="68.00" width="40.00" height="253.00" fill="#fff" stroke="#7f7f7f" stroke-width="4" stroke-linejoin="round"/>
<rect x="1989.24" y="70.00" width="40.00" height="251.00" fill="#fff" stroke="#7f7f7f" stroke-width="4" stroke-linejoin="round"/>
<line x1="1679.50" y1="321.00" x2="2036.00" y2="321.00" stroke="#000" stroke-width="1.75" />
<line x1="1679.50" y1="321.00" x2="1679.50" y2="327.30" stroke="#000" stroke-width="1.5" />
<line x1="1730.23" y1="321.00" x2="1730.23" y2="327.30" stroke="#000" stroke-width="1.5" />
<line x1="1780.96" y1="321.00" x2="1780.96" y2="327.30" stroke="#000" stroke-width="1.5" />
<line x1="1831.69" y1="321.00" x2="1831.69" y2="327.30" stroke="#000" stroke-width="1.5" />
<line x1="1882.42" y1="321.00" x2="1882.42" y2="327.30" stroke="#000" stroke-width="1.5" />
<line x1="1933.15" y1="321.00" x2="1933.15" y2="327.30" stroke="#000" stroke-width="1.5" />
<line x1="1983.88" y1="321.00" x2="1983.88" y2="327.30" stroke="#000" stroke-width="1.5" />
<line x1="2034.61" y1="321.00" x2="2034.61" y2="327.30" stroke="#000" stroke-width="1.5" />
<text x="1704.87" y="352.00" text-anchor="middle" style="font-size:20px" >20</text>
<text x="1907.79" y="352.00" text-anchor="middle" style="font-size:20px" >20</text>
<text x="1755.60" y="352.00" text-anchor="middle" style="font-size:20px" >30</text>
<text x="1958.51" y="352.00" text-anchor="middle" style="font-size:20px" >30</text>
<text x="1806.33" y="352.00" text-anchor="middle" style="font-size:20px" >40</text>
<text x="2009.24" y="352.00" text-anchor="middle" style="font-size:20px" >40</text>
<line x1="1854.75" y1="44.5" x2="1854.75" y2="320" stroke="#000" stroke-width="1.2" stroke-dasharray="3 1.6"/>
<text x="1757.50" y="39.00" text-anchor="middle" style="font-size:23px" >August</text>
<text x="1955.50" y="39.00" text-anchor="middle" style="font-size:23px" >December</text>
<text x="1758.50" y="380.80" text-anchor="start" style="font-size:25.8px" >Temperature (°C)</text>
<text transform="translate(1625.5,300) rotate(-90)" style="font-size:25.75px">Rel. ab. shared OTUs</text>
</svg></body></html>
